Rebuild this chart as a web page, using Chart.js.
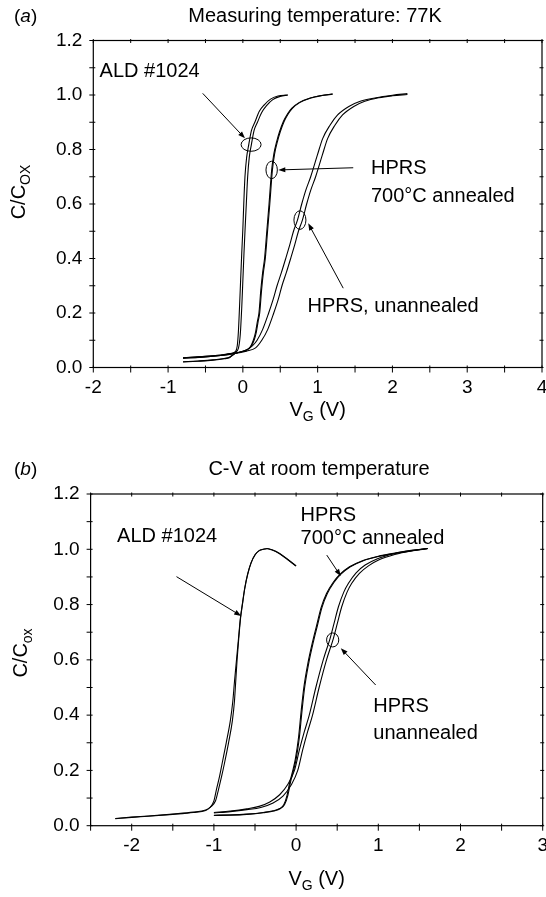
<!DOCTYPE html>
<html>
<head>
<meta charset="utf-8">
<script src="https://cdn.jsdelivr.net/npm/chart.js@4.4.1/dist/chart.umd.min.js"></script>
<style>
  html, body { margin: 0; padding: 0; background: #fff; }
  #wrap { width: 546px; height: 897px; }
  canvas { display: block; }
</style>
</head>
<body>
<div id="wrap">
  <canvas id="cvA" width="546" height="440"></canvas>
  <canvas id="cvB" width="546" height="457"></canvas>
</div>
<script>
// C-V curves, (V_G, C/Cox) pairs.
// panel (a): measured at 77 K
const ald77Up = [[-0.8,0.036],[-0.6,0.039],[-0.4,0.043],[-0.25,0.047],[-0.15,0.052],[-0.1,0.058],[-0.075,0.08],[-0.06,0.13],[-0.045,0.22],[-0.03,0.32],[-0.015,0.42],[0.0,0.51],[0.012,0.6],[0.028,0.7],[0.05,0.77],[0.08,0.82],[0.115,0.87],[0.16,0.9],[0.22,0.94],[0.29,0.965],[0.37,0.985],[0.47,0.996],[0.6,1.0]];
const ald77Down = [[-0.8,0.034],[-0.6,0.037],[-0.4,0.041],[-0.25,0.046],[-0.15,0.051],[-0.1,0.056],[-0.06,0.07],[-0.035,0.12],[-0.015,0.22],[0.0,0.32],[0.015,0.42],[0.03,0.51],[0.046,0.6],[0.064,0.7],[0.085,0.77],[0.115,0.82],[0.15,0.87],[0.195,0.9],[0.25,0.935],[0.32,0.962],[0.4,0.983],[0.5,0.995],[0.6,1.0]];
const ann77Up = [[-0.8,0.02],[-0.6,0.023],[-0.4,0.027],[-0.25,0.032],[-0.18,0.036],[-0.14,0.045],[-0.1,0.052],[-0.03,0.057],[0.05,0.064],[0.1,0.076],[0.14,0.1],[0.17,0.13],[0.195,0.17],[0.215,0.2],[0.24,0.284],[0.265,0.35],[0.29,0.4],[0.32,0.5],[0.35,0.6],[0.385,0.725],[0.415,0.785],[0.452,0.829],[0.49,0.865],[0.54,0.902],[0.6,0.932],[0.652,0.951],[0.75,0.972],[0.9,0.989],[1.05,0.998],[1.2,1.004]];
const ann77Down = [[-0.8,0.021],[-0.6,0.024],[-0.4,0.028],[-0.25,0.033],[-0.18,0.038],[-0.13,0.047],[-0.09,0.053],[-0.02,0.058],[0.06,0.066],[0.11,0.078],[0.15,0.1],[0.18,0.13],[0.205,0.17],[0.225,0.2],[0.25,0.284],[0.275,0.35],[0.3,0.4],[0.33,0.5],[0.36,0.6],[0.395,0.725],[0.425,0.785],[0.462,0.829],[0.5,0.865],[0.55,0.902],[0.61,0.932],[0.662,0.951],[0.76,0.972],[0.91,0.989],[1.06,0.998],[1.2,1.003]];
const una77Up = [[-0.8,0.036],[-0.5,0.041],[-0.3,0.046],[-0.15,0.051],[-0.05,0.056],[0.05,0.064],[0.13,0.08],[0.19,0.1],[0.265,0.14],[0.345,0.2],[0.405,0.25],[0.457,0.3],[0.517,0.35],[0.573,0.4],[0.627,0.45],[0.677,0.5],[0.73,0.541],[0.787,0.6],[0.842,0.651],[0.907,0.7],[0.997,0.78],[1.067,0.84],[1.167,0.89],[1.267,0.927],[1.417,0.958],[1.57,0.977],[1.78,0.99],[2.0,0.999],[2.2,1.005]];
const una77Down = [[-0.8,0.034],[-0.5,0.039],[-0.3,0.044],[-0.15,0.049],[-0.05,0.054],[0.05,0.06],[0.17,0.072],[0.253,0.1],[0.333,0.14],[0.413,0.2],[0.473,0.25],[0.523,0.3],[0.583,0.35],[0.639,0.4],[0.693,0.45],[0.743,0.5],[0.796,0.541],[0.853,0.6],[0.908,0.651],[0.973,0.7],[1.063,0.78],[1.133,0.84],[1.233,0.89],[1.333,0.927],[1.483,0.958],[1.63,0.977],[1.82,0.99],[2.0,0.997],[2.2,1.002]];

// panel (b): room temperature
const aldRtUp = [[-2.2,0.025],[-2.0,0.03],[-1.8,0.034],[-1.5,0.041],[-1.25,0.048],[-1.1,0.055],[-1.05,0.065],[-1.0,0.09],[-0.97,0.13],[-0.93,0.18],[-0.9,0.225],[-0.85,0.3],[-0.8,0.38],[-0.77,0.45],[-0.75,0.52],[-0.725,0.6],[-0.7,0.68],[-0.678,0.75],[-0.655,0.8],[-0.625,0.86],[-0.59,0.91],[-0.55,0.95],[-0.5,0.98],[-0.45,0.995],[-0.4,1.0],[-0.354,1.003],[-0.3,0.999],[-0.2,0.985],[-0.1,0.963],[0.0,0.94]];
const aldRtDown = [[-2.2,0.026],[-2.0,0.031],[-1.8,0.035],[-1.5,0.042],[-1.25,0.049],[-1.1,0.057],[-1.04,0.068],[-0.98,0.09],[-0.945,0.13],[-0.905,0.18],[-0.872,0.225],[-0.822,0.3],[-0.775,0.38],[-0.75,0.45],[-0.735,0.52],[-0.718,0.6],[-0.697,0.68],[-0.676,0.75],[-0.653,0.8],[-0.623,0.86],[-0.588,0.91],[-0.548,0.95],[-0.498,0.98],[-0.448,0.995],[-0.398,1.0],[-0.354,1.002],[-0.3,0.998],[-0.2,0.984],[-0.1,0.962],[0.0,0.939]];
const annRtUp = [[-1.0,0.038],[-0.8,0.039],[-0.6,0.042],[-0.4,0.048],[-0.28,0.054],[-0.2,0.062],[-0.15,0.076],[-0.11,0.11],[-0.075,0.16],[-0.04,0.2],[-0.01,0.24],[0.03,0.32],[0.06,0.41],[0.094,0.5],[0.145,0.59],[0.2,0.665],[0.25,0.725],[0.305,0.79],[0.37,0.84],[0.45,0.88],[0.535,0.91],[0.65,0.937],[0.8,0.958],[1.0,0.975],[1.2,0.986],[1.4,0.995],[1.6,1.003]];
const annRtDown = [[-1.0,0.037],[-0.8,0.038],[-0.6,0.041],[-0.4,0.047],[-0.27,0.053],[-0.19,0.062],[-0.14,0.077],[-0.1,0.11],[-0.066,0.16],[-0.031,0.2],[0.0,0.24],[0.04,0.32],[0.07,0.41],[0.104,0.5],[0.155,0.59],[0.21,0.665],[0.26,0.725],[0.315,0.79],[0.38,0.84],[0.46,0.88],[0.545,0.91],[0.66,0.937],[0.81,0.958],[1.0,0.974],[1.2,0.985],[1.4,0.994],[1.6,1.002]];
const unaRtUp = [[-1.0,0.048],[-0.8,0.053],[-0.6,0.061],[-0.45,0.07],[-0.32,0.086],[-0.2,0.112],[-0.1,0.15],[-0.02,0.2],[0.04,0.274],[0.1,0.34],[0.16,0.4],[0.24,0.5],[0.33,0.6],[0.414,0.678],[0.46,0.73],[0.515,0.792],[0.58,0.845],[0.637,0.877],[0.73,0.915],[0.84,0.943],[0.99,0.966],[1.2,0.985],[1.4,0.996],[1.6,1.003]];
const unaRtDown = [[-1.0,0.046],[-0.8,0.051],[-0.6,0.058],[-0.43,0.066],[-0.28,0.082],[-0.16,0.107],[-0.06,0.147],[0.02,0.2],[0.08,0.274],[0.14,0.34],[0.2,0.4],[0.28,0.5],[0.37,0.6],[0.454,0.678],[0.5,0.73],[0.555,0.792],[0.62,0.845],[0.677,0.877],[0.77,0.913],[0.88,0.94],[1.01,0.962],[1.2,0.981],[1.4,0.994],[1.6,1.003]];

// axes
const xTicksA = [-2,-1,0,1,2,3,4];
const xMinorA = [-1.5,-0.5,0.5,1.5,2.5,3.5];
const xTicksB = [-2,-1,0,1,2,3];
const xMinorB = [-2.5,-1.5,-0.5,0.5,1.5,2.5];
const yTicks = [0,0.2,0.4,0.6,0.8,1.0,1.2];
const yMinor = [0.1,0.3,0.5,0.7,0.9,1.1];

const FONT = '"Liberation Sans", Arial, Helvetica, sans-serif';

// labels, arrows and ellipses (positions in data units, sizes in px)
const DECOR = {
  cvA: {
    xMajor: xTicksA, xMinor: xMinorA,
    tag: 'a', title: 'Measuring temperature: 77K', titleX: 315, titleY: 22,
    yTitle: ['C/C', 'OX'], yTitleX: 25, yTitleY: 192,
    xTitleY: 416,
    texts: [
      { t: 'ALD #1024', v: -1.916, c: 1.086 },
      { t: 'HPRS', v: 1.713, c: 0.732 },
      { t: '700\u00B0C annealed', v: 1.713, c: 0.627 },
      { t: 'HPRS, unannealed', v: 0.864, c: 0.223 }
    ],
    ellipses: [
      { v: 0.11, c: 0.818, rx: 10, ry: 6.7 },
      { v: 0.385, c: 0.725, rx: 5.7, ry: 8.7 },
      { v: 0.763, c: 0.541, rx: 6, ry: 9.3 }
    ],
    arrows: [
      { v0: -0.537, c0: 1.006, v1: 0.028, c1: 0.841 },
      { v0: 1.476, c0: 0.733, v1: 0.474, c1: 0.725 },
      { v0: 1.342, c0: 0.291, v1: 0.874, c1: 0.529 }
    ]
  },
  cvB: {
    xMajor: xTicksB, xMinor: xMinorB,
    tag: 'b', title: 'C-V at room temperature', titleX: 319, titleY: 35,
    yTitle: ['C/C', 'ox'], yTitleX: 27, yTitleY: 213,
    xTitleY: 445,
    texts: [
      { t: 'ALD #1024', v: -2.178, c: 1.046 },
      { t: 'HPRS', v: 0.055, c: 1.124 },
      { t: '700\u00B0C annealed', v: 0.055, c: 1.04 },
      { t: 'HPRS', v: 0.939, c: 0.431 },
      { t: 'unannealed', v: 0.939, c: 0.334 }
    ],
    ellipses: [
      { v: 0.445, c: 0.672, rx: 6.1, ry: 7 }
    ],
    arrows: [
      { v0: -1.455, c0: 0.901, v1: -0.668, c1: 0.759 },
      { v0: 0.373, c0: 0.979, v1: 0.543, c1: 0.903 },
      { v0: 0.968, c0: 0.509, v1: 0.544, c1: 0.642 }
    ]
  }
};

function pts(arr){ return arr.map(p => ({ x: p[0], y: p[1] })); }

function line(data){
  return {
    data: pts(data),
    showLine: true,
    borderColor: '#000',
    borderWidth: 1.1,
    pointRadius: 0,
    fill: false,
    cubicInterpolationMode: 'monotone'
  };
}

// draw text made of normal + subscript parts, centred on (0,0) baseline
function subText(ctx, main, sub, tail){
  const big = '20px ' + FONT, small = '14px ' + FONT;
  ctx.font = big; const w1 = ctx.measureText(main).width;
  ctx.font = small; const w2 = ctx.measureText(sub).width;
  ctx.font = big; const w3 = tail ? ctx.measureText(tail).width : 0;
  let x = -(w1 + w2 + w3) / 2;
  ctx.textAlign = 'left'; ctx.textBaseline = 'alphabetic';
  ctx.font = big; ctx.fillText(main, x, 0); x += w1;
  ctx.font = small; ctx.fillText(sub, x, 5); x += w2;
  if(tail){ ctx.font = big; ctx.fillText(tail, x, 0); }
}

const decorPlugin = {
  id: 'decor',
  afterDraw(chart){
    const d = DECOR[chart.canvas.id];
    if(!d) return;
    const ctx = chart.ctx, xs = chart.scales.x, ys = chart.scales.y, a = chart.chartArea;
    ctx.save();
    ctx.strokeStyle = '#000'; ctx.fillStyle = '#000';

    // frame
    ctx.lineWidth = 1.2;
    ctx.strokeRect(a.left, a.top, a.right - a.left, a.bottom - a.top);

    // tick marks on all four sides
    ctx.lineWidth = 1;
    ctx.beginPath();
    d.xMajor.concat(d.xMinor).forEach(v => {
      const x = xs.getPixelForValue(v);
      ctx.moveTo(x, a.bottom + 5); ctx.lineTo(x, a.bottom - 2);
      ctx.moveTo(x, a.top - 1.5); ctx.lineTo(x, a.top + 2.5);
    });
    yTicks.concat(yMinor).forEach(v => {
      const y = ys.getPixelForValue(v);
      ctx.moveTo(a.left - 4, y); ctx.lineTo(a.left + 2, y);
      ctx.moveTo(a.right - 2.5, y); ctx.lineTo(a.right + 1.5, y);
    });
    ctx.stroke();

    // ellipses
    d.ellipses.forEach(e => {
      ctx.beginPath();
      ctx.ellipse(xs.getPixelForValue(e.v), ys.getPixelForValue(e.c), e.rx, e.ry, 0, 0, Math.PI * 2);
      ctx.stroke();
    });

    // arrows
    d.arrows.forEach(r => {
      const x0 = xs.getPixelForValue(r.v0), y0 = ys.getPixelForValue(r.c0);
      const x1 = xs.getPixelForValue(r.v1), y1 = ys.getPixelForValue(r.c1);
      const ang = Math.atan2(y1 - y0, x1 - x0);
      const L = 7, W = 2.6;
      ctx.beginPath(); ctx.moveTo(x0, y0);
      ctx.lineTo(x1 - Math.cos(ang) * L * 0.8, y1 - Math.sin(ang) * L * 0.8); ctx.stroke();
      ctx.beginPath();
      ctx.moveTo(x1, y1);
      ctx.lineTo(x1 - Math.cos(ang) * L - Math.sin(ang) * W, y1 - Math.sin(ang) * L + Math.cos(ang) * W);
      ctx.lineTo(x1 - Math.cos(ang) * L + Math.sin(ang) * W, y1 - Math.sin(ang) * L - Math.cos(ang) * W);
      ctx.closePath(); ctx.fill();
    });

    // annotation text
    ctx.font = '20px ' + FONT;
    ctx.textAlign = 'left'; ctx.textBaseline = 'middle';
    d.texts.forEach(t => ctx.fillText(t.t, xs.getPixelForValue(t.v), ys.getPixelForValue(t.c)));

    // panel tag "(a)" with italic letter, and title
    ctx.textBaseline = 'alphabetic';
    let tx = 14;
    ctx.font = '19px ' + FONT; ctx.fillText('(', tx, d.titleY); tx += ctx.measureText('(').width;
    ctx.font = 'italic 19px ' + FONT; ctx.fillText(d.tag, tx, d.titleY); tx += ctx.measureText(d.tag).width;
    ctx.font = '19px ' + FONT; ctx.fillText(')', tx, d.titleY);
    ctx.font = '20px ' + FONT; ctx.textAlign = 'center';
    ctx.fillText(d.title, d.titleX, d.titleY);

    // axis titles
    ctx.save();
    ctx.translate(d.yTitleX, d.yTitleY); ctx.rotate(-Math.PI / 2);
    subText(ctx, d.yTitle[0], d.yTitle[1]);
    ctx.restore();
    ctx.save();
    ctx.translate((a.left + a.right) / 2, d.xTitleY);
    subText(ctx, 'V', 'G', ' (V)');
    ctx.restore();

    ctx.restore();
  }
};

function makeChart(id, sets, xMin, xMax, xTicks, pad, yWidth, xHeight){
  return new Chart(document.getElementById(id), {
    type: 'scatter',
    data: { datasets: sets.map(line) },
    options: {
      responsive: false,
      animation: false,
      events: [],
      layout: { padding: pad },
      plugins: { legend: { display: false }, tooltip: { enabled: false } },
      scales: {
        x: {
          type: 'linear', min: xMin, max: xMax,
          afterBuildTicks: s => { s.ticks = xTicks.map(v => ({ value: v })); },
          afterFit: s => { s.height = xHeight; s.paddingLeft = 0; s.paddingRight = 0; },
          ticks: { color: '#000', font: { family: FONT, size: 19 }, padding: 9, maxRotation: 0, autoSkip: false,
                   callback: v => String(v) },
          grid: { display: false, drawTicks: false },
          border: { display: false }
        },
        y: {
          type: 'linear', min: 0, max: 1.2,
          afterBuildTicks: s => { s.ticks = yTicks.map(v => ({ value: v })); },
          afterFit: s => { s.width = yWidth; },
          ticks: { color: '#000', font: { family: FONT, size: 19 }, padding: 11,
                   callback: v => Number(v).toFixed(1) },
          grid: { display: false, drawTicks: false },
          border: { display: false }
        }
      }
    },
    plugins: [decorPlugin]
  });
}

makeChart('cvA', [ald77Up, ald77Down, ann77Up, ann77Down, una77Up, una77Down],
  -2, 4, xTicksA, { top: 40.5, right: 4, left: 0, bottom: 0 }, 93.3, 72.5);
makeChart('cvB', [aldRtUp, aldRtDown, annRtUp, annRtDown, unaRtUp, unaRtDown],
  -2.5, 3, xTicksB, { top: 54, right: 3.3, left: 0, bottom: 0 }, 90.6, 71.3);
</script>
</body>
</html>
